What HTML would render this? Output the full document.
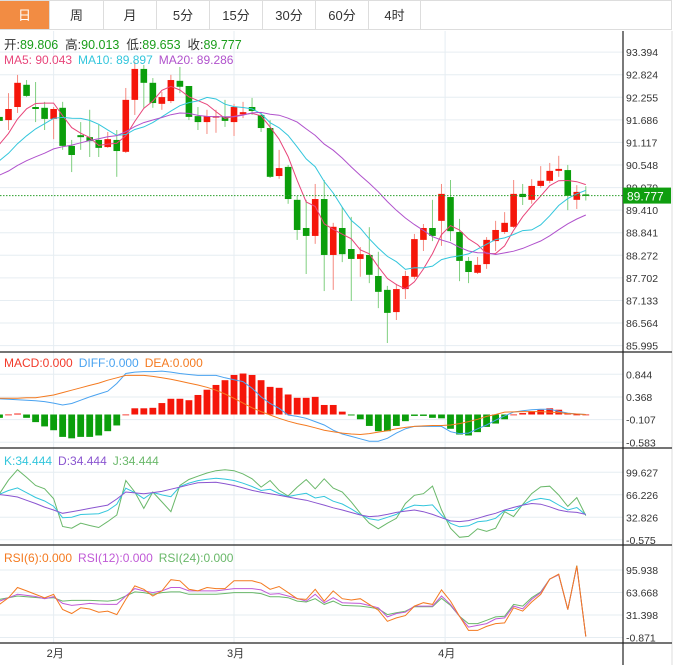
<!DOCTYPE html>
<html><head><meta charset="utf-8">
<style>
html,body{margin:0;padding:0;background:#fff;width:679px;height:665px;overflow:hidden}
body{font-family:"Liberation Sans","Noto Sans CJK SC",sans-serif}
#tabs{position:absolute;left:0;top:0;width:672px;height:30px;border-top:1px solid #ddd;border-right:1px solid #ddd;box-sizing:border-box;background:#fff}
.tab{position:absolute;top:0;height:29px;line-height:29px;text-align:center;font-size:13px;color:#333;border-right:1px solid #ddd;border-bottom:1px solid #ddd;box-sizing:border-box}
.tab.on{background:#f28c43;color:#fff}
svg{position:absolute;left:0;top:0}
</style></head><body>
<div id="tabs">
<div class="tab on" style="left:0;width:50px">日</div>
<div class="tab" style="left:50px;width:54px">周</div>
<div class="tab" style="left:104px;width:53px">月</div>
<div class="tab" style="left:157px;width:53px">5分</div>
<div class="tab" style="left:210px;width:53px">15分</div>
<div class="tab" style="left:263px;width:53px">30分</div>
<div class="tab" style="left:316px;width:53px">60分</div>
<div class="tab" style="left:369px;width:52px">4时</div>
<div style="position:absolute;left:421px;top:28px;width:251px;border-bottom:1px solid #ddd"></div>
</div>
<svg id="chart" width="679" height="665"></svg>
<script>
const opens=[91.76,91.68,92.01,92.57,92.01,91.99,91.71,91.99,91.03,91.30,91.25,91.18,91.00,91.18,90.88,92.19,92.97,92.62,92.09,92.16,92.67,92.54,91.78,91.63,91.76,91.76,91.63,91.83,92.01,91.81,91.48,90.27,90.50,89.67,88.96,88.76,89.69,88.28,88.96,88.43,88.18,88.28,87.75,87.40,86.84,87.42,87.73,88.66,88.96,89.14,89.74,88.86,88.13,87.83,88.05,88.63,88.86,88.99,89.82,89.67,90.02,90.15,90.40,90.42,89.67,89.806];
const highs=[91.86,92.36,92.82,92.69,92.64,92.14,92.01,92.14,91.18,91.63,91.94,91.56,91.38,91.43,92.49,93.15,93.07,92.74,92.39,92.82,93.02,92.54,92.01,91.94,91.94,92.19,92.09,92.14,92.24,91.86,91.68,90.93,90.55,89.77,89.67,90.07,90.17,89.09,89.49,89.24,88.48,88.98,88.36,87.50,87.55,87.88,88.81,89.06,89.67,90.07,90.17,89.19,88.23,88.23,88.73,89.14,89.36,90.17,90.07,90.19,90.52,90.60,90.78,90.55,90.04,90.013];
const lows=[91.43,91.43,91.86,92.26,91.63,91.43,91.20,90.93,90.37,90.93,90.75,90.75,90.98,90.25,90.85,91.81,91.99,91.99,91.94,92.11,92.36,91.68,91.43,91.33,91.36,91.51,91.28,91.73,91.81,91.38,90.22,90.20,89.57,88.66,87.80,88.56,87.37,87.40,88.10,87.12,87.73,87.57,86.94,86.06,86.64,87.17,87.67,88.38,88.63,88.51,88.63,87.62,87.57,87.80,87.93,88.38,88.81,88.96,89.54,89.57,89.97,90.09,90.25,89.41,89.44,89.653];
const closes=[91.66,91.96,92.62,92.29,91.96,91.71,91.96,91.03,90.80,91.25,91.15,90.98,91.20,90.90,92.19,92.97,92.62,92.11,92.26,92.69,92.52,91.76,91.63,91.78,91.78,91.66,92.01,91.88,91.91,91.48,90.25,90.47,89.69,88.91,88.76,89.69,88.28,88.99,88.30,88.18,88.30,87.78,87.35,86.82,87.42,87.75,88.68,88.96,88.76,89.82,88.88,88.13,87.85,88.03,88.66,88.91,89.09,89.82,89.74,90.02,90.15,90.40,90.45,89.77,89.87,89.777];
const priorCloses=[89.9,89.8,89.9,90.0,89.9,89.8,89.9,90.0,90.1,90.0,90.1,90.2,90.3,90.2,90.4,90.6,90.8,91.0,91.3];
const priceTicks=[93.394,92.824,92.255,91.686,91.117,90.548,89.979,89.410,88.841,88.272,87.702,87.133,86.564,85.995];
const macdBars=[-0.07,0,0.02,-0.07,-0.16,-0.25,-0.33,-0.47,-0.50,-0.47,-0.47,-0.44,-0.35,-0.23,0,0.13,0.13,0.14,0.24,0.33,0.33,0.30,0.41,0.52,0.62,0.72,0.83,0.86,0.83,0.72,0.58,0.56,0.42,0.35,0.35,0.37,0.20,0.20,0.06,-0.02,-0.10,-0.24,-0.35,-0.35,-0.24,-0.14,-0.03,-0.03,-0.07,-0.08,-0.30,-0.42,-0.44,-0.37,-0.26,-0.19,-0.10,0,0.03,0.07,0.10,0.13,0.10,0.03,0,0];
const diffVals=[0.33,0.32,0.31,0.30,0.29,0.27,0.24,0.20,0.23,0.30,0.37,0.43,0.49,0.65,0.86,0.89,0.90,0.90,0.91,0.89,0.86,0.84,0.82,0.82,0.82,0.77,0.73,0.69,0.55,0.37,0.23,0.13,-0.01,-0.04,-0.08,-0.15,-0.22,-0.33,-0.41,-0.46,-0.51,-0.56,-0.56,-0.50,-0.39,-0.30,-0.25,-0.25,-0.25,-0.25,-0.36,-0.40,-0.39,-0.30,-0.22,-0.12,-0.03,0.05,0.08,0.10,0.11,0.11,0.07,0.03,0.01,0];
const deaVals=[0.34,0.34,0.34,0.35,0.35,0.38,0.41,0.46,0.51,0.56,0.61,0.66,0.72,0.77,0.82,0.82,0.82,0.80,0.77,0.74,0.70,0.66,0.62,0.57,0.51,0.43,0.34,0.24,0.14,0.06,-0.01,-0.08,-0.14,-0.19,-0.23,-0.28,-0.33,-0.36,-0.39,-0.41,-0.42,-0.40,-0.37,-0.34,-0.30,-0.27,-0.25,-0.24,-0.23,-0.23,-0.22,-0.19,-0.15,-0.10,-0.04,0,0.05,0.055,0.06,0.06,0.06,0.05,0.04,0.02,0.01,0];
const macdTicks=[0.844,0.368,-0.107,-0.583];
const dVals=[66.5,65,63,58,53.3,48,43.6,38.7,41.1,43.5,46,48.5,50.9,60,70.4,69,67.9,69.5,71.3,74.5,77.7,81,84,84.5,85,82.5,80.1,76.5,72.8,70,67.9,65.5,63,60.5,58.2,54.5,50.9,47,43.6,40,36.2,33.8,34.8,37.2,40.1,42.1,43.6,41.1,37.2,32.3,27.5,26.5,28,31.4,35.3,38.7,43.6,47.5,50.9,53.3,52.3,48.4,43.6,41.1,40.1,37.2];
const jVals=[67.9,88,103.5,92,80,75.2,60.6,19.2,16.7,24,20.6,17.7,26.5,36.2,87.4,70.4,46,70.4,55.7,41.1,80.1,88.9,93.8,98.6,102,103.5,102,97.2,89.9,77.7,87.4,72.8,64.5,77.7,88.9,75.2,89.9,76.2,70.4,55.7,38.7,24,15.8,24,31.4,53.3,65.5,67.9,79.1,43.6,16.7,3.1,4.5,15.8,11.9,16.7,41.1,33.8,52,68,78,79,66,49,62,35.3];
const kdjTicks=[99.627,66.226,32.826,-0.575];
const rsi6=[46.6,56,70.8,66,61,56,61,39.3,33.5,41.7,40,35.4,37,32,53.8,73.2,68.3,58.7,66,82,80.5,68.3,66,70.8,69.3,69.3,80.5,80.5,80.5,77,68.3,72.2,63.5,54.8,53.8,68.3,51.4,66,54.8,52.9,54.8,46.6,38.3,22.4,27.2,30.6,44.1,49,46.6,67.4,51.4,29.6,9.3,9.3,15.1,19,20,41.7,37,50,61,82.9,90.1,39.3,102,0.6];
const rsi12=[51.4,56,61.1,59.5,58,54.8,57.7,48,45.1,46.5,48,47,46.6,46.6,58.7,69.3,65.9,63.5,65.9,70.8,70.8,65.9,65.9,65.9,65.9,67.5,69.3,69.3,69.3,67.4,61.1,62.1,58.7,55,51.4,61.1,49,56.2,49,48.5,48,45,41.7,28.7,33.5,35.4,44.1,44.1,44.1,58.7,46.6,29.6,14.1,16.5,19,25.8,27.2,44.1,40.3,53.8,63.5,82.9,89.2,39.3,101.3,0.6];
const rsi24=[53.8,56,58.7,57.5,56.5,55.3,56.2,51.4,52.4,52.4,52.4,51.9,51.4,52.9,58.7,64.5,63.5,61.1,63.5,64.5,64.5,61.1,61.1,61.1,61.1,62.3,63.5,63.5,63.5,62.1,57.7,57.7,56.2,51.4,50,54.8,46.6,51.4,45.1,44.6,44.1,42.5,40.3,32,34.5,36.9,43.2,43.2,43.2,55.3,45.1,29.6,19,19,23.8,28.7,29.6,46.6,44.1,56.2,64.5,82.9,89.2,39.3,102.2,0.6];
const rsiTicks=[95.938,63.668,31.398,-0.871];
const monthLabels=["2月","3月","4月"];
const monthIndex=[6,26,49.4];

const svg=document.getElementById('chart');
const NS='http://www.w3.org/2000/svg';
function mk(tag,attrs,parent){const e=document.createElementNS(NS,tag);for(const k in attrs)e.setAttribute(k,attrs[k]);(parent||svg).appendChild(e);return e;}
const xOf=i=>-0.5+9.02*i;
const AX=623;
const yP=p=>165+(90.548-p)/0.569*22.57;
const yM=v=>414.5-v*47.65;
const yK=v=>517.3-(v-32.826)*0.6737;
const yR=v=>615-(v-31.398)*0.6973;

// grid
function hgrid(ticks,f,name){ticks.forEach(t=>{const l=mk('line',{x1:0,x2:AX,y1:f(t),y2:f(t),stroke:'#e6edf2','stroke-width':1});


const tx=mk('text',{x:AX+3,y:f(t)+4,'font-size':10.5,fill:'#333'});tx.textContent=t.toFixed(3);

});}
hgrid(priceTicks,yP,'price');hgrid(macdTicks,yM,'macd');hgrid(kdjTicks,yK,'kdj');hgrid(rsiTicks,yR,'rsi');
monthIndex.forEach((mi,k)=>{const x=xOf(mi);
const l=mk('line',{x1:x,x2:x,y1:31,y2:643,stroke:'#e6edf2'});


const t=mk('text',{x:x-7,y:657,'font-size':11,fill:'#333'});t.textContent=monthLabels[k];

});
// separators
[[352],[448],[545],[643]].forEach(([y])=>mk('line',{x1:0,x2:AX,y1:y,y2:y,stroke:'#222','stroke-width':1.2}));
mk('line',{x1:AX,x2:AX,y1:31,y2:665,stroke:'#222','stroke-width':1.2});
mk('line',{x1:672,x2:672,y1:31,y2:665,stroke:'#ddd'});
mk('line',{x1:AX,x2:672,y1:643,y2:643,stroke:'#222','stroke-width':1.2});
[352,448,545].forEach(y=>mk('line',{x1:AX,x2:672,y1:y,y2:y,stroke:'#222','stroke-width':1.2}));

// MA
const all=priorCloses.concat(closes);const P=priorCloses.length;
function ma(n){return closes.map((c,i)=>{let s=0;for(let k=0;k<n;k++)s+=all[P+i-k];return s/n;});}
function line(vals,f,color,name,w){const d=vals.map((v,i)=>(i?'L':'M')+xOf(i).toFixed(1)+' '+f(v).toFixed(1)).join('');
const p=mk('path',{d:d,fill:'none',stroke:color,'stroke-width':w||1});

}
// candles
closes.forEach((c,i)=>{const o=opens[i],up=c>=o,x=xOf(i);
const col=up?'#f5160a':'#0b9e0b',wc=up?'#f58a80':'#7fcf7f';
const g=mk('g',{});


mk('line',{x1:x,x2:x,y1:yP(highs[i]),y2:yP(lows[i]),stroke:wc,'stroke-width':1},g);
const t=yP(Math.max(o,c)),b=yP(Math.min(o,c));
mk('rect',{x:x-3.3,y:t,width:6.6,height:Math.max(1.5,b-t),fill:col},g);});
line(ma(5),yP,'#e8457a','ma5-line');line(ma(10),yP,'#33c6dc','ma10-line');line(ma(20),yP,'#b052cc','ma20-line');
// last price
const ly=yP(closes[closes.length-1]);
mk('line',{x1:0,x2:AX,y1:ly,y2:ly,stroke:'#2a9e2a','stroke-dasharray':'1.5,1.5'});
const lb=mk('rect',{x:AX,y:ly-8,width:48,height:16,fill:'#0f9e0f'});


const lt=mk('text',{x:AX+4,y:ly+5,'font-size':12,fill:'#fff'});lt.textContent=closes[closes.length-1].toFixed(3);
// MACD
macdBars.forEach((v,i)=>{const x=xOf(i),y0=yM(0),y1=yM(v);
const r=mk('rect',{x:x-3.4,y:Math.min(y0,y1),width:6.8,height:Math.max(0.8,Math.abs(y1-y0)),fill:v>=0?'#f5160a':'#0b9e0b'});

});
line(diffVals,yM,'#4aa3f0','diff-line');line(deaVals,yM,'#f47a20','dea-line');
// KDJ
const kVals=jVals.map((j,i)=>(j+2*dVals[i])/3);
line(jVals,yK,'#6ab86a','j-line');line(kVals,yK,'#33c6dc','k-line');line(dVals,yK,'#8a55d0','d-line');
// RSI
line(rsi24,yR,'#6ab86a','rsi24-line');line(rsi12,yR,'#c05ad6','rsi12-line');line(rsi6,yR,'#f47a20','rsi6-line');

// legends
function legend(y,items,name){const t=mk('text',{x:4,y:y,'font-size':12});


items.forEach(([s,c],k)=>{const ts=mk('tspan',{fill:c},t);if(k)ts.setAttribute('dx','6');ts.textContent=s;});}
const o=mk('text',{x:4,y:49,'font-size':12.5});


[['开:','#333'],['89.806','#1a9e1a'],['  高:','#333'],['90.013','#1a9e1a'],['  低:','#333'],['89.653','#1a9e1a'],['  收:','#333'],['89.777','#1a9e1a']].forEach(([s,c])=>{const ts=mk('tspan',{fill:c},o);ts.setAttribute('xml:space','preserve');ts.textContent=s;});
o.setAttribute('style','white-space:pre');
legend(64,[['MA5: 90.043','#e8457a'],['MA10: 89.897','#33c6dc'],['MA20: 89.286','#b052cc']],'ma-legend');
legend(367,[['MACD:0.000','#f23a2a'],['DIFF:0.000','#4aa3f0'],['DEA:0.000','#f47a20']],'macd-legend');
legend(465,[['K:34.444','#33c6dc'],['D:34.444','#8a55d0'],['J:34.444','#6ab86a']],'kdj-legend');
legend(562,[['RSI(6):0.000','#f47a20'],['RSI(12):0.000','#c05ad6'],['RSI(24):0.000','#6ab86a']],'rsi-legend');
</script>
</body></html>
